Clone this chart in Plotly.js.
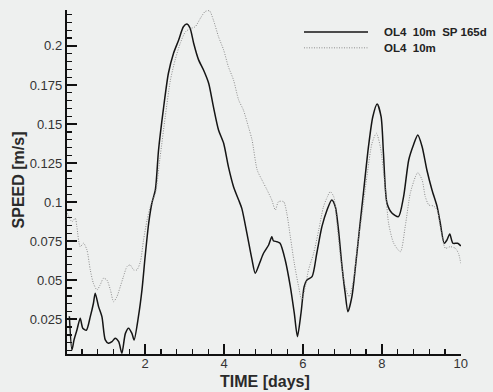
<!DOCTYPE html>
<html>
<head>
<meta charset="utf-8">
<script src="https://cdn.plot.ly/plotly-3.0.1.min.js"></script>
<style>html,body{margin:0;padding:0;background:#eef0ef;}#chart{width:493px;height:392px;}</style>
</head>
<body>
<div id="chart"></div>
<script>
// Series: OL4 10m SP 165d (solid)
const timeSP = [0.08,0.145,0.2,0.27,0.355,0.42,0.51,0.61,0.69,0.735,0.82,0.905,0.99,1.07,1.16,1.24,1.33,1.41,1.50,1.58,1.665,1.72,1.83,1.92,2.0,2.09,2.17,2.26,2.34,2.47,2.59,2.72,2.85,2.97,3.06,3.14,3.23,3.35,3.48,3.61,3.73,3.86,3.99,4.11,4.24,4.37,4.45,4.58,4.71,4.79,4.90,5.0,5.13,5.21,5.25,5.34,5.42,5.55,5.68,5.78,5.86,5.95,6.03,6.10,6.23,6.35,6.48,6.61,6.73,6.82,6.90,6.99,7.07,7.14,7.24,7.33,7.43,7.54,7.66,7.77,7.88,7.98,8.04,8.13,8.26,8.42,8.55,8.68,8.80,8.91,9.02,9.14,9.27,9.40,9.48,9.58,9.65,9.72,9.80,9.92,10.0];
const speedSP = [0.027,0.0054,0.012,0.018,0.0257,0.0193,0.018,0.0267,0.0353,0.0417,0.0331,0.0267,0.0118,0.0097,0.0107,0.0129,0.0107,0.0033,0.016,0.0193,0.016,0.0118,0.0267,0.0438,0.0651,0.0865,0.0993,0.108,0.1334,0.161,0.1825,0.1953,0.2038,0.2123,0.214,0.2113,0.2017,0.1914,0.1846,0.1761,0.1611,0.1462,0.1377,0.1227,0.1099,0.1014,0.096,0.080,0.063,0.0545,0.0609,0.0673,0.0726,0.0779,0.0753,0.0747,0.0737,0.063,0.0459,0.0289,0.0139,0.0289,0.0459,0.0502,0.0523,0.0673,0.0843,0.095,0.1014,0.0971,0.0822,0.0587,0.0417,0.0299,0.0395,0.0587,0.0822,0.1078,0.1355,0.1547,0.1628,0.1547,0.1313,0.0993,0.0929,0.0907,0.1035,0.127,0.1366,0.143,0.1355,0.1206,0.1078,0.0971,0.0865,0.0737,0.0758,0.0796,0.0737,0.0737,0.072];

// Series: OL4 10m (dotted)
const timeOL = [0.03,0.145,0.23,0.27,0.355,0.44,0.525,0.61,0.69,0.78,0.86,0.945,1.03,1.12,1.20,1.285,1.37,1.45,1.54,1.62,1.71,1.79,1.88,1.96,2.05,2.13,2.26,2.38,2.51,2.64,2.76,2.89,3.02,3.14,3.27,3.40,3.52,3.63,3.73,3.86,3.99,4.11,4.24,4.37,4.49,4.62,4.71,4.84,4.96,5.09,5.21,5.30,5.38,5.51,5.59,5.68,5.78,5.89,5.97,6.06,6.14,6.27,6.40,6.52,6.62,6.69,6.78,6.86,6.95,7.07,7.17,7.28,7.38,7.50,7.62,7.75,7.86,7.96,8.09,8.17,8.30,8.47,8.59,8.72,8.85,8.91,9.02,9.10,9.19,9.31,9.40,9.48,9.61,9.73,9.86,9.94,10.0];
const speedOL = [0.0929,0.0875,0.0897,0.0843,0.0715,0.0737,0.0694,0.0566,0.048,0.0438,0.047,0.0513,0.0502,0.0438,0.0363,0.0395,0.0459,0.0523,0.0587,0.0598,0.0566,0.0566,0.0619,0.0758,0.0886,0.0971,0.1057,0.129,0.1547,0.178,0.191,0.2017,0.209,0.211,0.2123,0.2177,0.222,0.2225,0.2166,0.2059,0.1974,0.1867,0.1782,0.1654,0.159,0.148,0.1398,0.1206,0.1142,0.1078,0.1014,0.095,0.1003,0.1003,0.0929,0.0779,0.0609,0.0459,0.0374,0.0459,0.0566,0.0673,0.0822,0.0971,0.1035,0.1067,0.1035,0.0865,0.0651,0.0459,0.0395,0.0502,0.0715,0.0929,0.1163,0.1377,0.1441,0.1355,0.1078,0.0865,0.0737,0.0683,0.0843,0.1057,0.1163,0.1189,0.1142,0.1035,0.0982,0.0975,0.095,0.0843,0.0705,0.0715,0.0705,0.0673,0.0609];

const seriesNames = ['OL4&nbsp;&nbsp;10m&nbsp;&nbsp;SP 165d', 'OL4&nbsp;&nbsp;10m'];
const xTitle = 'TIME [days]';
const yTitle = 'SPEED [m/s]';

const dotStyle = {color: '#8c8c8c', width: 1, dash: '1px,1.5px'};
const titleFont = {size: 16, weight: 'bold', color: '#2a2a2a'};
const legendFont = {size: 11.5, weight: 'bold', color: '#222'};

const traces = [
  {x: timeSP, y: speedSP, mode: 'lines', name: seriesNames[0],
   line: {color: '#151515', width: 1.5, shape: 'spline', smoothing: 0.7}, showlegend: false},
  {x: timeOL, y: speedOL, mode: 'lines', name: seriesNames[1],
   line: Object.assign({shape: 'spline', smoothing: 0.7}, dotStyle), showlegend: false}
];

const axisCommon = {
  showline: true, linecolor: '#111', linewidth: 2.2, mirror: false,
  showgrid: false, zeroline: false,
  ticks: 'inside', ticklen: 10, tickwidth: 2, tickcolor: '#111',
  tickfont: {family: 'Liberation Sans, Arial, sans-serif', size: 13, color: '#333'}
};

const layout = {
  width: 493, height: 392,
  margin: {l: 67, r: 32, t: 10, b: 38},
  paper_bgcolor: '#eef0ef', plot_bgcolor: '#eef0ef',
  font: {family: 'Liberation Sans, Arial, sans-serif', color: '#2a2a2a'},
  xaxis: Object.assign({}, axisCommon, {
    range: [0.02, 10.005], tickmode: 'linear', tick0: 0, dtick: 2, ticklabelstandoff: -4,
    minor: {ticks: 'inside', dtick: 0.4, tick0: 0, ticklen: 5, tickwidth: 1.3, tickcolor: '#111'}
  }),
  yaxis: Object.assign({}, axisCommon, {
    range: [0.0028, 0.223], tickmode: 'linear', tick0: 0, dtick: 0.025,
    minor: {ticks: 'inside', dtick: 0.005, tick0: 0, ticklen: 5, tickwidth: 1.3, tickcolor: '#111'}
  }),
  shapes: [
    {type: 'line', xref: 'paper', yref: 'paper', x0: 0.6015, x1: 0.764, y0: 0.936, y1: 0.936,
     line: {color: '#151515', width: 1.5}},
    {type: 'line', xref: 'paper', yref: 'paper', x0: 0.6015, x1: 0.764, y0: 0.890, y1: 0.890,
     line: dotStyle}
  ],
  annotations: [
    {xref: 'paper', yref: 'paper', x: 0.7995, y: 0.936, xanchor: 'left', yanchor: 'middle',
     text: seriesNames[0], showarrow: false, font: legendFont},
    {xref: 'paper', yref: 'paper', x: 0.7995, y: 0.890, xanchor: 'left', yanchor: 'middle',
     text: seriesNames[1], showarrow: false, font: legendFont},
    {xref: 'paper', yref: 'paper', x: 0.5025, y: -0.080, xanchor: 'center', yanchor: 'middle',
     text: xTitle, showarrow: false, font: titleFont},
    {xref: 'paper', yref: 'paper', x: -0.124, y: 0.505, xanchor: 'center', yanchor: 'middle',
     text: yTitle, textangle: -90, showarrow: false, font: titleFont}
  ]
};

Plotly.newPlot('chart', traces, layout, {staticPlot: true, displayModeBar: false});
</script>
</body>
</html>
